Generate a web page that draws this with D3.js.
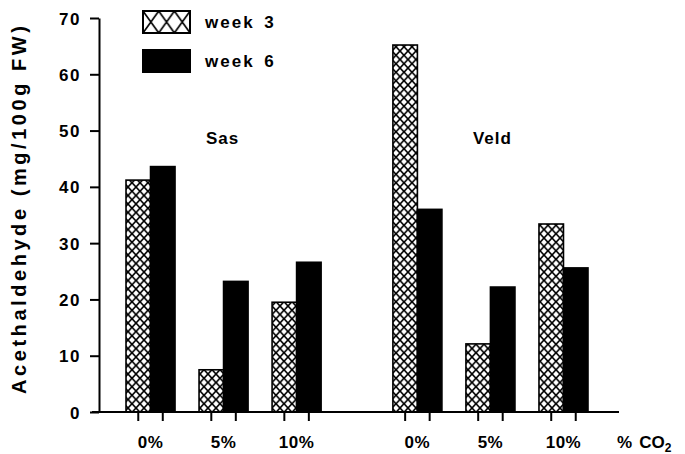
<!DOCTYPE html>
<html>
<head>
<meta charset="utf-8">
<script src="https://cdn.jsdelivr.net/npm/d3@7"></script>
<style>
  body { margin: 0; background: #fff; }
  svg text { font-family: "Liberation Sans", Arial, Helvetica, sans-serif; font-weight: bold; fill: #000; }
</style>
</head>
<body>
<svg id="chart"></svg>
<script>
const width = 685, height = 454;

const cultivars = ["Sas", "Veld"];
const levels = ["0%", "5%", "10%"];
const weeks = ["week 3", "week 6"];
// values per cultivar, in order of levels
const week3 = { Sas: [41.2, 7.5, 19.5], Veld: [65.2, 12.1, 33.4] };
const week6 = { Sas: [43.6, 23.2, 26.6], Veld: [36.0, 22.2, 25.6] };
const yTicks = [0, 10, 20, 30, 40, 50, 60, 70];

const svg = d3.select("#chart").attr("width", width).attr("height", height);

const defs = svg.append("defs");
const hatch = (id, w, h) => {
    const p = defs.append("pattern").attr("id", id)
        .attr("patternUnits", "userSpaceOnUse").attr("width", w).attr("height", h);
    p.append("rect").attr("width", w).attr("height", h).attr("fill", "#fff");
    p.append("path").attr("d", `M0,0L${w},${h}M${w},0L0,${h}`)
        .attr("stroke", "#000").attr("stroke-width", 1.6).attr("fill", "none");
};
hatch("hatchBar", 8, 8.5);
hatch("hatchLegend", 15.7, 22);

const y = d3.scaleLinear().domain([0, 70]).range([412, 18]);
const x0 = d3.scaleBand().domain(cultivars).range([114, 600]).paddingInner(0.179);
const x1 = d3.scaleBand().domain(levels).range([0, x0.bandwidth()])
    .paddingInner(24 / 73).paddingOuter(12 / 73);
const x2 = d3.scaleBand().domain(weeks).range([0, x1.bandwidth()]);

const rows = [];
cultivars.forEach(c => levels.forEach((l, i) => {
    rows.push({ c, l, w: weeks[0], v: week3[c][i] });
    rows.push({ c, l, w: weeks[1], v: week6[c][i] });
}));
const bx = d => x0(d.c) + x1(d.l) + x2(d.w);

// bars
svg.append("g").selectAll("rect").data(rows).join("rect")
    .attr("x", bx)
    .attr("y", d => y(d.v))
    .attr("width", x2.bandwidth())
    .attr("height", d => y(0) - y(d.v))
    .attr("fill", d => d.w === weeks[0] ? "url(#hatchBar)" : "#000")
    .attr("stroke", "#000").attr("stroke-width", 1.6);

// y axis
svg.append("g")
    .attr("transform", `translate(99,0)`)
    .call(d3.axisLeft(y).tickValues(yTicks).tickSize(9).tickSizeOuter(0).tickPadding(9))
    .call(g => g.selectAll("path,line").attr("stroke", "#000").attr("stroke-width", 2))
    .call(g => g.selectAll("text").attr("font-size", 17).attr("letter-spacing", 1.5)
        .attr("font-family", null).attr("dy", "0.36em"));

// x axis line and ticks
svg.append("line").attr("x1", 92).attr("x2", 619).attr("y1", y(0)).attr("y2", y(0))
    .attr("stroke", "#000").attr("stroke-width", 2);
svg.append("g").selectAll("line").data(rows).join("line")
    .attr("x1", d => bx(d) + x2.bandwidth() / 2).attr("x2", d => bx(d) + x2.bandwidth() / 2)
    .attr("y1", y(0)).attr("y2", y(0) + 9)
    .attr("stroke", "#000").attr("stroke-width", 2);

// category labels
const groups = [];
cultivars.forEach(c => levels.forEach(l => groups.push({ c, l })));
svg.append("g").selectAll("text").data(groups).join("text")
    .attr("x", d => x0(d.c) + x1(d.l) + x1.bandwidth() / 2)
    .attr("y", 448)
    .attr("text-anchor", "middle")
    .attr("font-size", 17).attr("letter-spacing", 0.5)
    .text(d => d.l);

const co2 = svg.append("text").attr("x", 617).attr("y", 448).attr("font-size", 17);
co2.append("tspan").text("%");
co2.append("tspan").attr("dx", 7).text("CO");
co2.append("tspan").attr("font-size", 12).attr("dy", 4).text("2");

// cultivar labels
svg.append("g").selectAll("text").data(cultivars).join("text")
    .attr("x", d => x0(d) + x0.bandwidth() * 0.42)
    .attr("y", 144)
    .attr("font-size", 17).attr("letter-spacing", 1)
    .text(d => d);

// y title
svg.append("text")
    .attr("transform", "translate(26,210) rotate(-90)")
    .attr("text-anchor", "middle")
    .attr("font-size", 20)
    .attr("textLength", 368).attr("lengthAdjust", "spacing")
    .text("Acethaldehyde (mg/100g FW)");

// legend
const legend = svg.append("g").selectAll("g").data(weeks).join("g")
    .attr("transform", (d, i) => `translate(143,${11 + i * 39})`);
legend.append("rect")
    .attr("width", 47).attr("height", 22)
    .attr("fill", (d, i) => i === 0 ? "url(#hatchLegend)" : "#000")
    .attr("stroke", "#000").attr("stroke-width", 2);
legend.append("text")
    .attr("x", 62).attr("y", 17)
    .attr("font-size", 17).attr("letter-spacing", 2).attr("word-spacing", 3)
    .text(d => d);
</script>
</body>
</html>
